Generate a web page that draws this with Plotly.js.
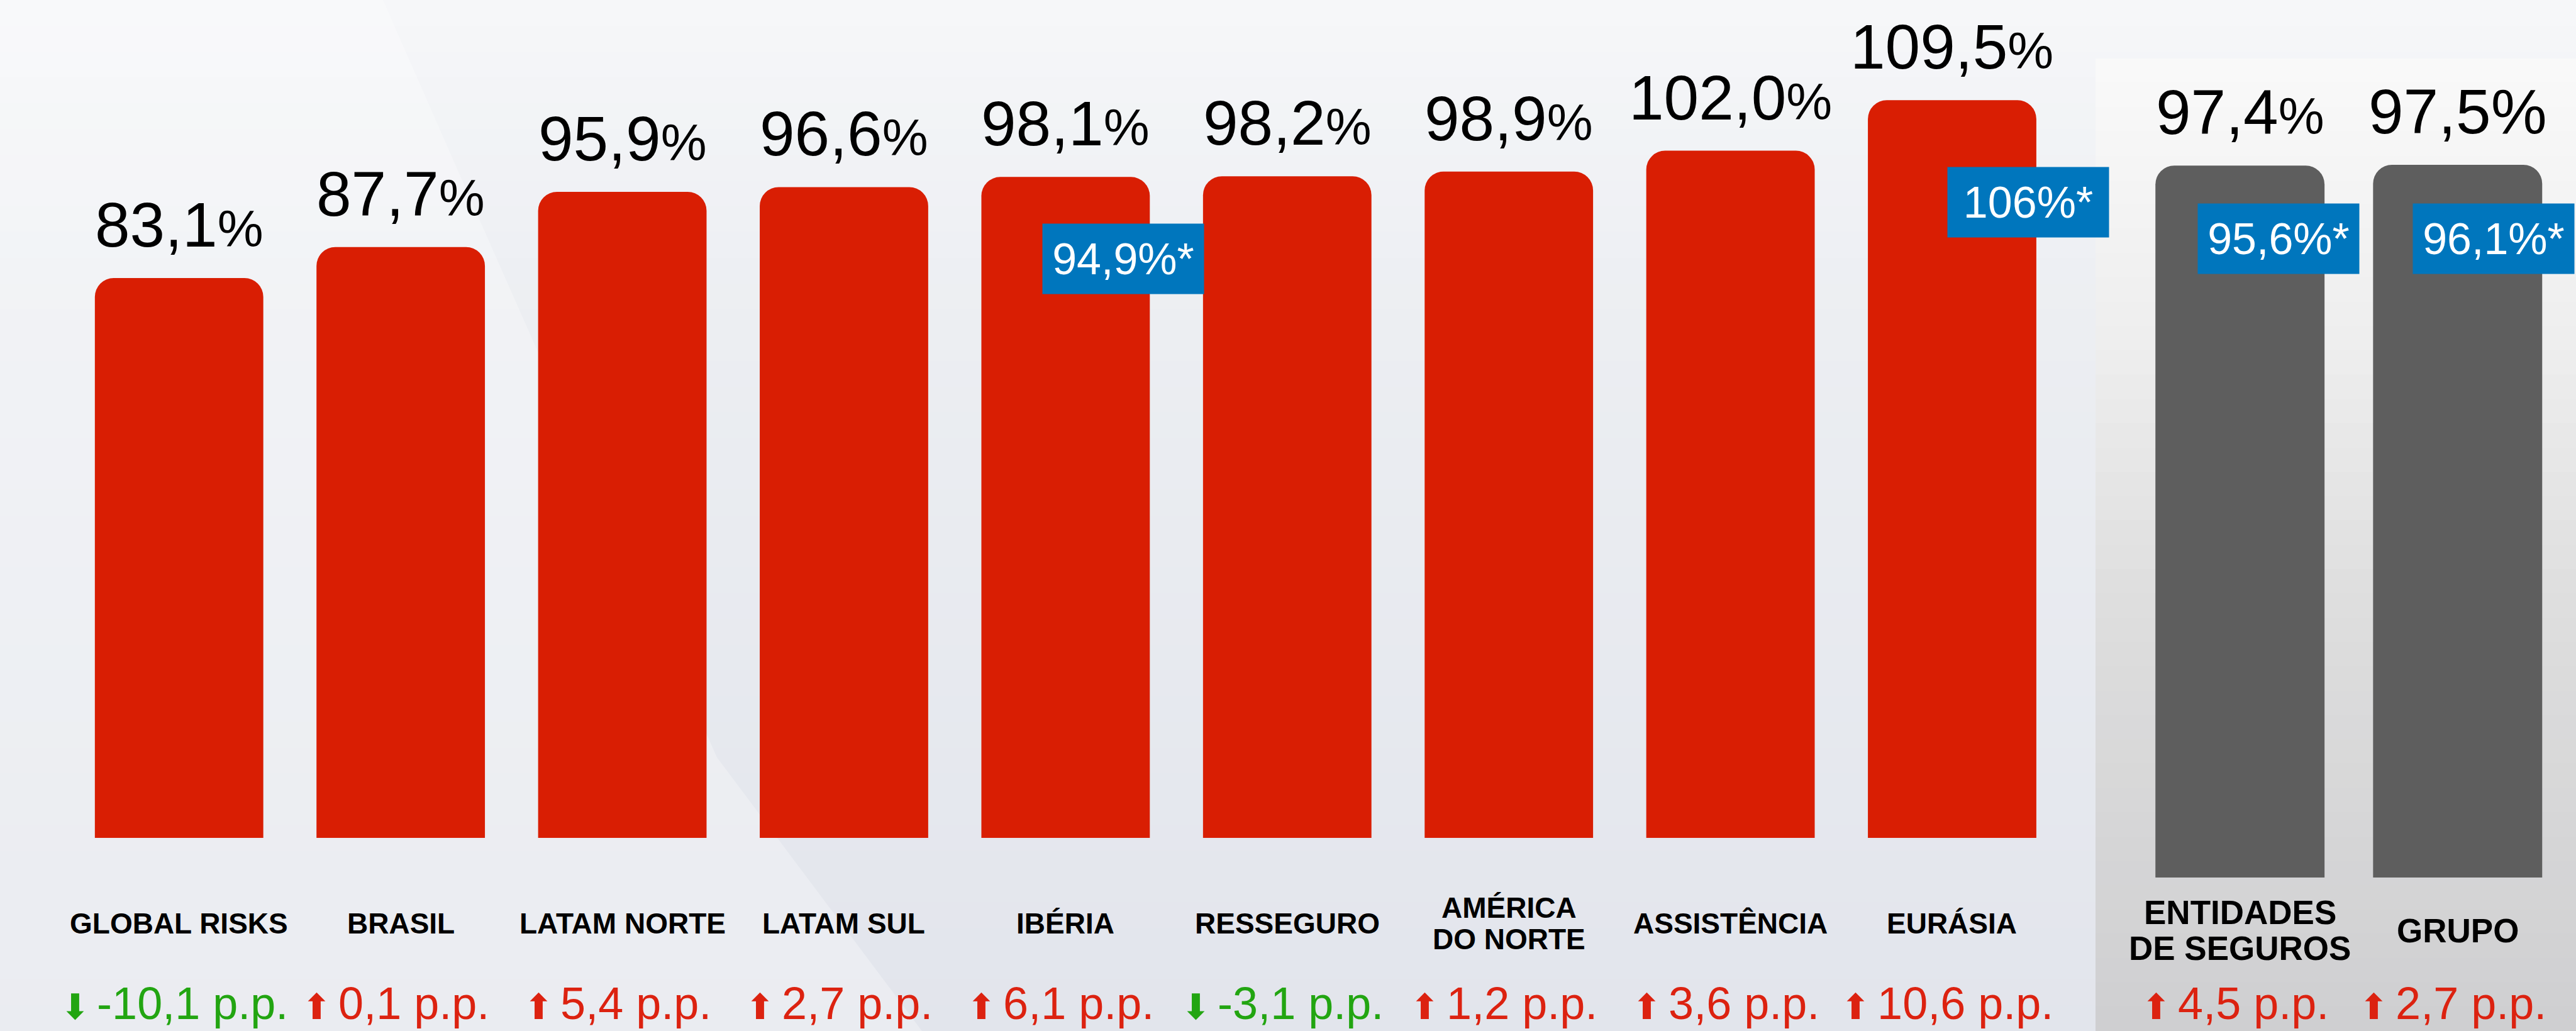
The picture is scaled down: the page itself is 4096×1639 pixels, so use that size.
<!DOCTYPE html>
<html>
<head>
<meta charset="utf-8">
<script src="https://cdn.plot.ly/plotly-3.0.1.min.js"></script>
<style>html,body{margin:0;padding:0;background:#EDEFF3;overflow:hidden}</style>
</head>
<body>
<div id="chart" style="width:4096px;height:1639px"></div>
<script>
// ---------------- data ----------------
const segments = ['GLOBAL RISKS','BRASIL','LATAM NORTE','LATAM SUL','IBÉRIA','RESSEGURO','AMÉRICA\nDO NORTE','ASSISTÊNCIA','EURÁSIA'];
const segmentRatios = [83.1, 87.7, 95.9, 96.6, 98.1, 98.2, 98.9, 102.0, 109.5];
const segmentAdjusted = [null, null, null, null, 94.9, null, null, null, 106];
const segmentChange = [-10.1, 0.1, 5.4, 2.7, 6.1, -3.1, 1.2, 3.6, 10.6];

const totals = ['ENTIDADES\nDE SEGUROS','GRUPO'];
const totalRatios = [97.4, 97.5];
const totalAdjusted = [95.6, 96.1];
const totalChange = [4.5, 2.7];

// ---------------- styling / geometry ----------------
const W = 4096, H = 1639;
const SPLIT = 3332 / W;
const FONT = 'Liberation Sans, Arial, Helvetica, sans-serif';
const RED = '#D91E03', GRAY = '#5E5E5E', BLUE = '#0076BD';
const UP_COLOR = '#DC2210', DOWN_COLOR = '#22A511';

// blue-box placement (px offsets from bar centre, box centre y in px)
const segBoxPlace = {4: {dx: 92, cy: 412}, 8: {dx: 121, cy: 321}};
const totBoxPlace = {0: {dx: 61, cy: 379}, 1: {dx: 57, cy: 379}};
const totPctSize = [82, 100];

const fmt = v => v.toFixed(1).replace('.', ',');
const fmtAdj = v => Number.isInteger(v) ? String(v) : fmt(v);

const traces = [
  {type: 'bar', x: segments, y: segmentRatios, xaxis: 'x', yaxis: 'y',
   width: 0.76, marker: {color: RED, cornerradius: 30}, hoverinfo: 'skip', showlegend: false},
  {type: 'bar', x: totals, y: totalRatios, xaxis: 'x2', yaxis: 'y2',
   width: 0.777, marker: {color: GRAY, cornerradius: 30}, hoverinfo: 'skip', showlegend: false}
];

const annotations = [];
function addGroup(cats, vals, adj, chg, xr, yr, catCenterPx, lineGap, catSize, boxPlace, pctSizes) {
  cats.forEach((c, i) => {
    const pct = pctSizes ? pctSizes[i] : 82;
    annotations.push({xref: xr, yref: yr, x: c, y: vals[i], yanchor: 'bottom', yshift: 27,
      showarrow: false, text: fmt(vals[i]) + '<span style="font-size:' + pct + 'px">%</span>',
      font: {family: FONT, size: 100, color: '#000'}});
    if (adj[i] != null && boxPlace[i]) {
      annotations.push({xref: xr, yref: 'paper', x: c, xshift: boxPlace[i].dx,
        y: 1 - boxPlace[i].cy / H, yanchor: 'middle', xanchor: 'center',
        showarrow: false, width: 256, height: 111, borderpad: 0, bgcolor: BLUE,
        text: fmtAdj(adj[i]) + '%*', font: {family: FONT, size: 70, color: '#fff'}});
    }
    const lines = c.split('\n');
    lines.forEach((ln, j) => {
      const off = (j - (lines.length - 1) / 2) * lineGap;
      annotations.push({xref: xr, yref: 'paper', x: c, y: 1 - catCenterPx / H, yshift: -off,
        yanchor: 'middle', showarrow: false, text: '<b>' + ln + '</b>',
        font: {family: FONT, size: catSize, color: '#000'}});
    });
    const down = chg[i] < 0;
    const col = down ? DOWN_COLOR : UP_COLOR;
    annotations.push({xref: xr, yref: 'paper', x: c, y: 0, yanchor: 'bottom', yshift: 2, xshift: -8,
      showarrow: false,
      text: '<span style="font-family:DejaVu Sans;font-size:56px">' + (down ? '⬇' : '⬆') + '\u2009</span>' + fmt(chg[i]) + ' p.p.',
      font: {family: FONT, size: 72, color: col}});
  });
}
addGroup(segments, segmentRatios, segmentAdjusted, segmentChange, 'x', 'y', 1468, 50.5, 46, segBoxPlace, null);
addGroup(totals, totalRatios, totalAdjusted, totalChange, 'x2', 'y2', 1479, 56.5, 53, totBoxPlace, totPctSize);

// ---------------- background ----------------
function hex2rgb(h) { return [1, 3, 5].map(k => parseInt(h.substr(k, 2), 16)); }
function colorAt(stops, p) {
  if (p <= stops[0][0]) return hex2rgb(stops[0][1]);
  for (let k = 1; k < stops.length; k++) {
    if (p <= stops[k][0]) {
      const a = hex2rgb(stops[k - 1][1]), b = hex2rgb(stops[k][1]);
      const t = (p - stops[k - 1][0]) / (stops[k][0] - stops[k - 1][0]);
      return a.map((v, m) => Math.round(v + (b[m] - v) * t));
    }
  }
  return hex2rgb(stops[stops.length - 1][1]);
}
const shapes = [];
function bands(x0, x1, y0, y1, stops, n) {
  for (let k = 0; k < n; k++) {
    const a = y0 + (y1 - y0) * k / n, b = y0 + (y1 - y0) * (k + 1) / n + 1;
    const c = colorAt(stops, (a + b) / 2);
    shapes.push({type: 'rect', xref: 'paper', yref: 'paper', layer: 'below',
      x0: x0, x1: x1, y0: 1 - Math.min(b, H) / H, y1: 1 - a / H,
      fillcolor: 'rgb(' + c.join(',') + ')', line: {width: 0}});
  }
}
bands(0, 1, 0, H, [[0, '#F6F7F9'], [500, '#ECEEF2'], [H, '#E2E5EC']], 40);
const P = (x, y) => (x / W).toFixed(5) + ',' + (1 - y / H).toFixed(5);
shapes.push({type: 'path', xref: 'paper', yref: 'paper', layer: 'below',
  path: 'M' + P(0, 0) + ' L' + P(609, 0) + ' L' + P(754, 330) + ' L' + P(1140, 1204) + ' L' + P(1466, H) + ' L' + P(0, H) + ' Z',
  fillcolor: 'rgba(255,255,255,0.28)', line: {width: 0}});
bands(SPLIT, 1, 93, H, [[93, '#FAFAFA'], [575, '#EDEDED'], [985, '#DDDDDD'], [H, '#CFCFD1']], 40);

const layout = {
  width: W, height: H, autosize: false,
  margin: {l: 0, r: 0, t: 0, b: 0, pad: 0},
  paper_bgcolor: '#EDEFF3', plot_bgcolor: 'rgba(0,0,0,0)',
  barmode: 'overlay', showlegend: false,
  font: {family: FONT},
  xaxis: {domain: [0, SPLIT], range: [-0.808, 8.647], type: 'category', visible: false, fixedrange: true},
  yaxis: {domain: [0, 1], range: [-28.66, 124.37], visible: false, fixedrange: true},
  xaxis2: {domain: [SPLIT, 1], range: [-0.6637, 1.5438], type: 'category', anchor: 'y2', visible: false, fixedrange: true},
  yaxis2: {domain: [0, 1], range: [-21.0, 120.05], anchor: 'x2', visible: false, fixedrange: true},
  shapes: shapes,
  annotations: annotations
};

Plotly.newPlot('chart', traces, layout, {displayModeBar: false, staticPlot: true});
</script>
</body>
</html>
